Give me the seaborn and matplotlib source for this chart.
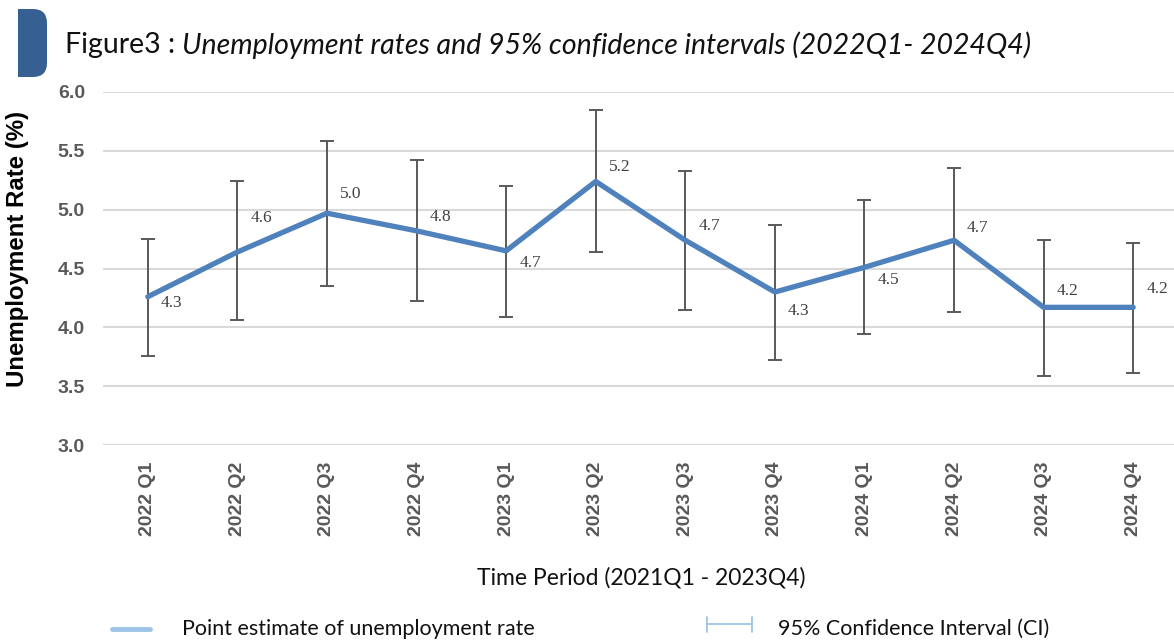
import matplotlib
matplotlib.use("Agg")
import matplotlib.pyplot as plt
from matplotlib.patches import FancyBboxPatch, Rectangle
from matplotlib.lines import Line2D
import numpy as np
import pandas as pd
import seaborn as sns

# Quarterly unemployment estimates with 95% confidence bounds
quarters = ["2022 Q1", "2022 Q2", "2022 Q3", "2022 Q4",
            "2023 Q1", "2023 Q2", "2023 Q3", "2023 Q4",
            "2024 Q1", "2024 Q2", "2024 Q3", "2024 Q4"]
rate = [4.26, 4.64, 4.97, 4.82, 4.65, 5.24, 4.74, 4.30, 4.51, 4.74, 4.17, 4.17]
ci_low = [3.76, 4.06, 4.35, 4.22, 4.09, 4.64, 4.15, 3.72, 3.94, 4.13, 3.59, 3.61]
ci_high = [4.75, 5.24, 5.58, 5.42, 5.20, 5.85, 5.33, 4.87, 5.08, 5.35, 4.74, 4.72]
y_ticks = [3.0, 3.5, 4.0, 4.5, 5.0, 5.5, 6.0]

# vertical placement of each value label relative to its point (pixels)
label_dy = [-6, 34, 19, 14, -12, 14, 14, -19, -13, 12, 16, 18]

df = pd.DataFrame({"pos": np.arange(len(quarters)), "quarter": quarters,
                   "rate": rate, "lo": ci_low, "hi": ci_high})

sns.set_theme(style="white")
plt.rcParams["font.family"] = ["Lato", "DejaVu Sans"]

W, H = 1174, 640
fig = plt.figure(figsize=(W / 100, H / 100), dpi=100)
ax = fig.add_axes([103 / W, 1 - 445 / H, (1178 - 103) / W, (445 - 92) / H])

LINE_BLUE = "#4F81BD"
BAR_GREY = "#595959"

# horizontal grid
for t in y_ticks:
    ax.axhline(t, color="#D9D9D9", lw=1.5, zorder=0)

# confidence interval whiskers
yerr = np.vstack([df["rate"] - df["lo"], df["hi"] - df["rate"]])
ax.errorbar(df["pos"], df["rate"], yerr=yerr, fmt="none", ecolor=BAR_GREY,
            elinewidth=1.4, capsize=5, capthick=1.4, zorder=2)

# point estimate line
sns.lineplot(data=df, x="pos", y="rate", ax=ax, color=LINE_BLUE, lw=3.8,
             sort=False, zorder=3, legend=False)

# value labels
for i, (v, dy) in enumerate(zip(df["rate"], label_dy)):
    ax.annotate(f"{v:.1f}", (i, v), xytext=(13, dy), textcoords="offset pixels",
                ha="left", va="center", fontsize=12.5, color="#404040",
                family=["Liberation Serif", "DejaVu Serif"], zorder=4)

ax.set_xlim(-0.5, len(quarters) - 0.5)
ax.set_ylim(3.0, 6.0)
ax.set_yticks(y_ticks)
ax.set_yticklabels([f"{t:.1f}" for t in y_ticks])
ax.set_xticks(df["pos"])
ax.set_xticklabels(quarters, rotation=90)
for lab in ax.get_yticklabels():
    lab.set_fontfamily(["Liberation Sans", "DejaVu Sans"])
    lab.set_fontweight("bold")
    lab.set_fontsize(14)
    lab.set_color(BAR_GREY)
for lab in ax.get_xticklabels():
    lab.set_fontfamily(["Liberation Sans", "DejaVu Sans"])
    lab.set_fontweight("bold")
    lab.set_fontsize(14)
    lab.set_color(BAR_GREY)
ax.tick_params(axis="y", length=0, pad=13)
ax.tick_params(axis="x", length=0, pad=12)
for s in ax.spines.values():
    s.set_visible(False)
ax.set_xlabel("")
ax.set_ylabel("")
ax.patch.set_alpha(0)

# axis titles
fig.text(18 / W, 1 - 249 / H, "Unemployment Rate (%)", rotation=90,
         ha="center", va="center", fontsize=17.3, fontweight="bold",
         color="black", family=["Liberation Sans", "DejaVu Sans"])
fig.text(641 / W, 1 - 578 / H, "Time Period (2021Q1 - 2023Q4)",
         ha="center", va="center", fontsize=16.5, color="#111111")

# title with a rounded tab marker
tab = FancyBboxPatch((18 / W, 1 - 77 / H), 29 / W, 68 / H,
                     boxstyle="round,pad=0,rounding_size=0.012",
                     transform=fig.transFigure, facecolor="#366092",
                     edgecolor="none", mutation_aspect=W / H)
fig.add_artist(tab)
fig.add_artist(Rectangle((18 / W, 1 - 77 / H), 14 / W, 68 / H,
                         transform=fig.transFigure, facecolor="#366092",
                         edgecolor="none"))

t1 = fig.text(65 / W, 1 - 45 / H, "Figure3 : ", ha="left", va="center",
              fontsize=20.5, color="#111111")
fig.canvas.draw()
bb = t1.get_window_extent()
fig.text(bb.x1 / W, 1 - 45 / H,
         "Unemployment rates and 95% confidence intervals (2022Q1- 2024Q4)",
         ha="left", va="center", fontsize=20.5, style="italic", color="#111111")

# legend
LEG_BLUE = "#9DC3E6"
fig.add_artist(Line2D([112 / W, 150 / W], [1 - 629 / H] * 2, lw=3.5,
                      color=LEG_BLUE, transform=fig.transFigure))
fig.text(182 / W, 1 - 629 / H, "Point estimate of unemployment rate",
         ha="left", va="center", fontsize=15.5, color="#111111")
fig.add_artist(Line2D([707 / W, 752 / W], [1 - 624 / H] * 2, lw=1.3,
                      color=LEG_BLUE, transform=fig.transFigure))
for xc in (707, 752):
    fig.add_artist(Line2D([xc / W] * 2, [1 - 617 / H, 1 - 632 / H], lw=1.3,
                          color=LEG_BLUE, transform=fig.transFigure))
fig.text(778 / W, 1 - 629 / H, "95% Confidence Interval (CI)",
         ha="left", va="center", fontsize=15.5, color="#111111")

fig.savefig("out.png", dpi=100, facecolor="white")
